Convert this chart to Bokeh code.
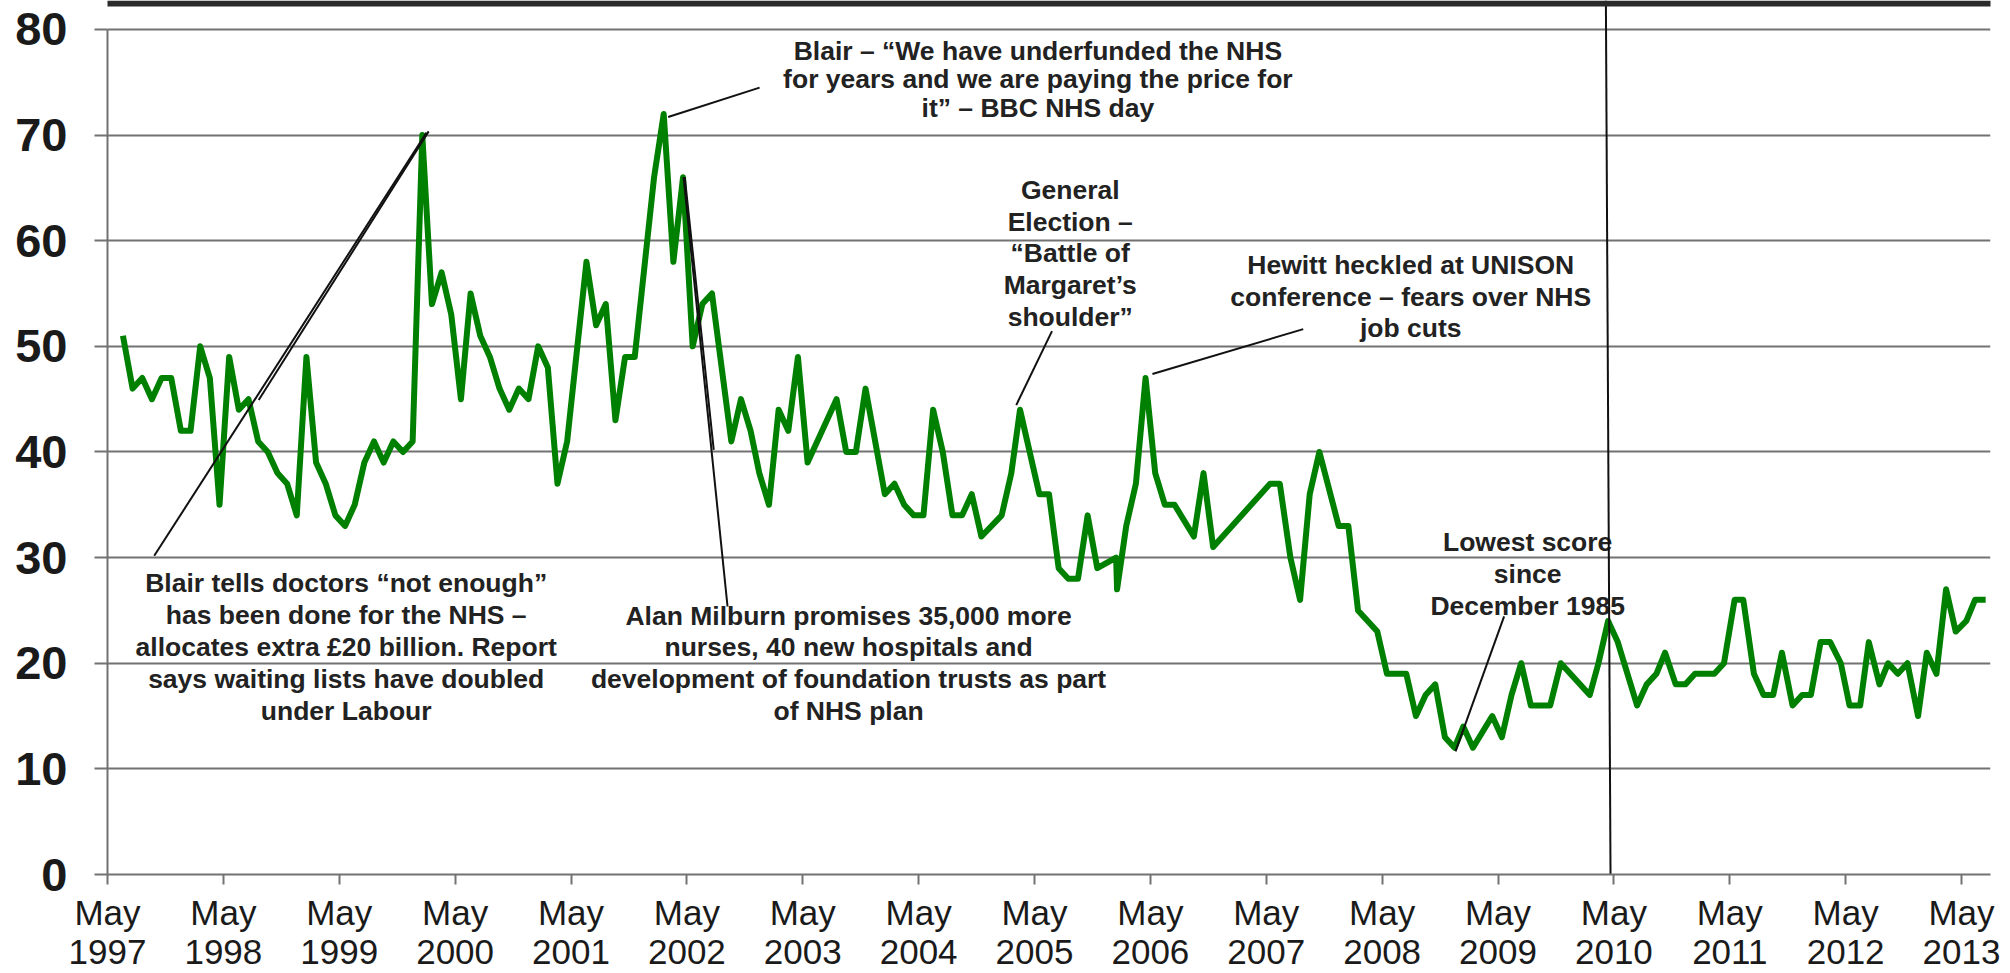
from bokeh.plotting import figure
from bokeh.models import Range1d, FixedTicker, BoxAnnotation
from bokeh.core.properties import value
from bokeh.embed import file_html
from bokeh.resources import INLINE

# months after May 1997 (0 = May 1997) and the issue score
months = [1.6, 2.6, 3.6, 4.6, 5.6, 6.6, 7.6, 8.6, 9.6, 10.6,
          11.6, 12.6, 13.6, 14.6, 15.6, 16.6, 17.6, 18.6, 19.6, 20.6,
          21.6, 22.6, 23.6, 24.6, 25.6, 26.6, 27.6, 28.6, 29.6, 30.6,
          31.6, 32.6, 33.6, 34.6, 35.6, 36.6, 37.6, 38.6, 39.6, 40.6,
          41.6, 42.6, 43.6, 44.6, 45.6, 46.6, 47.6, 49.6, 50.6, 51.6,
          52.6, 53.6, 54.6, 56.6, 57.6, 58.6, 59.6, 60.6, 61.6, 62.6,
          64.6, 65.6, 66.6, 67.5, 68.5, 69.5, 70.5, 71.5, 72.5, 75.5,
          76.5, 77.5, 78.5, 80.5, 81.5, 82.5, 83.5, 84.5, 85.5, 86.5,
          87.5, 88.5, 89.5, 90.5, 92.6, 93.6, 94.5, 95.5, 96.5, 97.5,
          98.5, 99.5, 100.5, 101.5, 102.5, 104.45, 104.55, 105.5, 106.5, 107.5,
          108.5, 109.5, 110.5, 112.5, 113.5, 114.5, 120.4, 121.4, 122.5, 123.5,
          124.5, 125.5, 127.5, 128.5, 129.5, 130.5, 131.5, 132.5, 133.5, 134.5,
          135.5, 136.5, 137.5, 138.5, 139.5, 140.4, 141.4, 143.4, 144.4, 145.4,
          146.4, 147.4, 148.4, 149.4, 150.5, 153.5, 154.4, 155.4, 156.4, 158.4,
          159.4, 160.4, 161.3, 162.4, 163.4, 164.4, 165.4, 166.4, 167.4, 168.5,
          169.4, 170.5, 171.5, 172.5, 173.4, 174.5, 175.5, 176.4, 177.4, 178.4,
          179.5, 180.4, 181.5, 182.4, 183.5, 184.4, 185.4, 186.4, 187.5, 188.4,
          189.4, 190.4, 191.4, 192.5, 193.4, 194.5]
scores = [51, 46, 47, 45, 47, 47, 42, 42, 50, 47,
          35, 49, 44, 45, 41, 40, 38, 37, 34, 49,
          39, 37, 34, 33, 35, 39, 41, 39, 41, 40,
          41, 70, 54, 57, 53, 45, 55, 51, 49, 46,
          44, 46, 45, 50, 48, 37, 41, 58, 52, 54,
          43, 49, 49, 66, 72, 58, 66, 50, 54, 55,
          41, 45, 42, 38, 35, 44, 42, 49, 39, 45,
          40, 40, 46, 36, 37, 35, 34, 34, 44, 40,
          34, 34, 36, 32, 34, 38, 44, 40, 36, 36,
          29, 28, 28, 34, 29, 30, 27, 33, 37, 47,
          38, 35, 35, 32, 38, 31, 37, 37, 30, 26,
          36, 40, 33, 33, 25, 24, 23, 19, 19, 19,
          15, 17, 18, 13, 12, 14, 12, 15, 13, 17,
          20, 16, 16, 16, 20, 17, 20, 24, 22, 16,
          18, 19, 21, 18, 18, 19, 19, 19, 20, 26,
          26, 19, 17, 17, 21, 16, 17, 17, 22, 22,
          20, 16, 16, 22, 18, 20, 19, 20, 15, 21,
          19, 27, 23, 24, 26, 26]

tick_months = list(range(0, 193, 12))
tick_labels = ["May\n%d" % (1997 + i) for i in range(len(tick_months))]
y_ticks = [0, 10, 20, 30, 40, 50, 60, 70, 80]

# annotations (text, centre month, centre score)
note_quote = ["Blair \u2013 \u201cWe have underfunded the NHS\nfor years and we are paying the price for\nit\u201d \u2013 BBC NHS day"]
notes_text = [
    "General\nElection \u2013\n\u201cBattle of\nMargaret\u2019s\nshoulder\u201d",
    "Hewitt heckled at UNISON\nconference \u2013 fears over NHS\njob cuts",
    "Blair tells doctors \u201cnot enough\u201d\nhas been done for the NHS \u2013\nallocates extra \u00a320 billion. Report\nsays waiting lists have doubled\nunder Labour",
    "Alan Milburn promises 35,000 more\nnurses, 40 new hospitals and\ndevelopment of foundation trusts as part\nof NHS plan",
    "Lowest score\nsince\nDecember 1985",
]
notes_x = [99.70, 134.96, 24.72, 76.74, 147.07]
notes_y = [58.79, 54.71, 21.53, 20.00, 28.44]
quote_x = [96.35]
quote_y = [75.27]

lead_x0 = [58.06, 97.81, 108.21, 4.84, 15.66, 59.65, 59.78, 144.63]
lead_y0 = [71.71, 51.44, 47.38, 30.17, 44.92, 66.03, 66.03, 24.43]
lead_x1 = [67.53, 94.11, 123.83, 33.04, 33.26, 64.21, 62.78, 139.60]
lead_y1 = [74.49, 44.44, 51.63, 70.23, 70.35, 25.37, 40.19, 11.66]

election_x = [155.17, 155.65]
election_y = [82.74, 0]

FONT = "Liberation Sans"
GRID = "#727272"

p = figure(width=2010, height=973, x_range=Range1d(0, 195.0), y_range=Range1d(0, 82.74),
           output_backend="svg", toolbar_location=None, title=None,
           min_border_left=107, min_border_right=20, min_border_top=0, min_border_bottom=98)
p.outline_line_color = None
p.background_fill_color = "white"
p.border_fill_color = "white"

p.xgrid.visible = False
p.ygrid.ticker = FixedTicker(ticks=y_ticks)
p.ygrid.grid_line_color = GRID
p.ygrid.grid_line_width = 2

xa = p.xaxis[0]
xa.ticker = FixedTicker(ticks=tick_months)
xa.major_label_overrides = {t: l for t, l in zip(tick_months, tick_labels)}
xa.minor_tick_line_color = None
xa.major_tick_in = 0
xa.major_tick_out = 10
xa.major_tick_line_color = GRID
xa.major_tick_line_width = 2
xa.axis_line_color = GRID
xa.axis_line_width = 2
xa.major_label_text_font = FONT
xa.major_label_text_font_size = "35px"
xa.major_label_text_color = "#1a1a1a"
xa.major_label_text_line_height = 1.0
xa.major_label_standoff = 8

ya = p.yaxis[0]
ya.bounds = (0, 80)
ya.ticker = FixedTicker(ticks=y_ticks)
ya.minor_tick_line_color = None
ya.major_tick_in = 0
ya.major_tick_out = 13
ya.major_tick_line_color = GRID
ya.major_tick_line_width = 2
ya.axis_line_color = GRID
ya.axis_line_width = 2
ya.major_label_text_font = FONT
ya.major_label_text_font_size = "47px"
ya.major_label_text_font_style = "bold"
ya.major_label_text_color = "#1a1a1a"
ya.major_label_standoff = 27

p.line(months, scores, line_color="#008000", line_width=6, line_join="round")

p.segment(x0=lead_x0, y0=lead_y0, x1=lead_x1, y1=lead_y1, line_color="#111111", line_width=2)

p.text(x=notes_x, y=notes_y, text=notes_text, text_font=value(FONT), text_font_size="26.5px",
       text_font_style="bold", text_color="#222222", text_align="center", text_baseline="middle",
       text_line_height=1.06)
p.text(x=quote_x, y=quote_y, text=note_quote, text_font=value(FONT), text_font_size="26.5px",
       text_font_style="bold", text_color="#222222", text_align="center", text_baseline="middle",
       text_line_height=0.953)

p.line(election_x, election_y, line_color="#111111", line_width=2)

# dark header strip across the top of the page
p.add_layout(BoxAnnotation(left=0, right=2010, top=0, bottom=6,
                           left_units="canvas", right_units="canvas",
                           bottom_units="canvas", top_units="canvas",
                           fill_color="#2b2b2b", fill_alpha=1.0, line_color=None,
                           level="overlay"))

open("out.html", "w").write(file_html(p, INLINE))
